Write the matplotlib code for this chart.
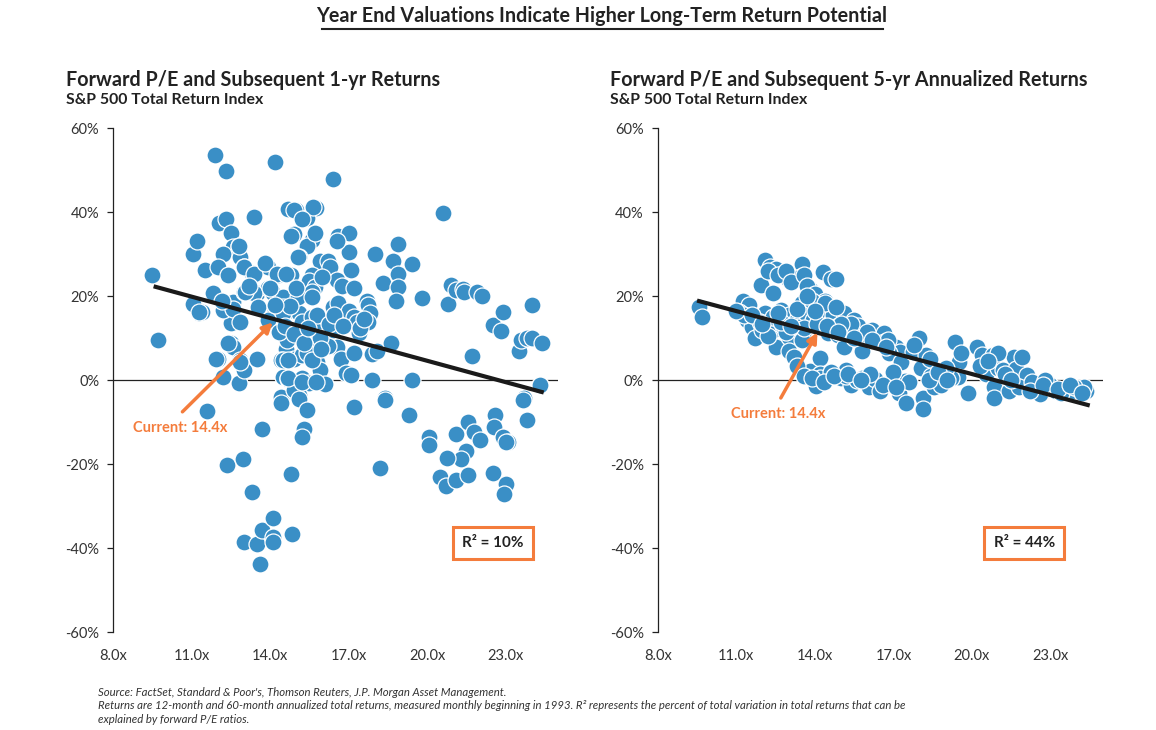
import matplotlib.pyplot as plt

plt.rcParams['font.family'] = ['Lato', 'DejaVu Sans']

BLUE = '#3a8fc6'
ORANGE = '#f47c3c'

# left panel: forward P/E vs subsequent 1-yr return (%)
pe_1yr = [11.9, 12.3, 14.2, 16.4, 20.6, 9.5, 9.7, 11.05, 11.2, 11.5, 11.1, 11.3, 11.4, 11.8, 12.0, 12.2, 12.8,
          12.05, 12.3, 12.5, 12.6, 12.8, 12.2, 12.0, 12.4, 12.85, 13.0, 13.4, 13.3, 13.5, 12.6, 12.85, 12.5, 12.2,
          13.0, 12.5, 12.6, 12.85, 13.0, 13.5, 13.8, 13.9, 14.3, 13.9, 14.1, 14.5, 14.8, 15.1, 14.5, 14.2, 13.9,
          14.8, 15.1, 15.2, 15.6, 15.7, 14.6, 14.6, 14.4, 14.9, 15.2, 15.6, 15.8, 15.9, 14.5, 14.7, 15.2, 15.5,
          16.1, 15.0, 15.1, 14.4, 14.7, 15.0, 15.75, 15.4, 14.9, 15.7, 15.6, 15.4, 15.1, 15.9, 16.2, 16.3, 15.6,
          15.5, 15.7, 15.6, 16.6, 17.0, 17.0, 17.1, 16.55, 16.75, 17.2, 16.4, 16.6, 17.0, 17.2, 17.3, 17.7, 17.75,
          17.8, 17.75, 17.4, 16.4, 16.55, 16.7, 16.9, 17.1, 17.2, 16.2, 15.9, 17.9, 18.1, 18.6, 17.9, 18.4, 18.0,
          18.3, 18.7, 18.9, 18.9, 18.9, 18.8, 19.4, 19.8, 19.4, 20.8, 20.9, 21.1, 21.35, 21.4, 21.9, 22.1, 21.7,
          22.5, 22.8, 22.9, 23.5, 23.6, 23.8, 24.0, 24.0, 24.4, 24.3, 23.7,
          11.6, 13.7, 12.35, 12.95, 13.3, 13.0, 13.5, 13.7, 14.1, 14.1, 14.1, 13.6, 14.85, 14.8, 14.4, 14.9, 15.1,
          15.4, 15.3, 15.2, 17.2, 18.4, 18.2, 19.3, 20.05, 20.05, 21.1, 21.55, 21.8, 22.0, 21.5, 21.3, 20.75, 20.5,
          20.7, 21.1, 21.55, 22.6, 22.55, 22.9, 23.1, 23.0, 22.5, 23.0, 22.95, 23.65, 23.8, 24.3,
          12.8, 13.0, 13.4, 13.8, 14.25, 14.6, 15.05, 13.4, 13.05, 12.6, 12.85, 11.8, 12.15, 11.05, 11.3, 12.4,
          11.95, 13.5, 12.85, 14.5, 14.75, 15.6, 15.8, 14.65, 14.5, 14.7, 15.4, 15.6, 14.7, 15.2, 15.75, 16.0,
          16.55, 15.7, 15.65, 14.9, 15.2, 14.8, 15.05,
          14.35, 14.55, 14.9, 15.3, 15.45, 15.95, 16.25, 16.45, 16.8, 17.45, 17.6, 13.55, 13.2, 14.0, 14.2, 15.0]
ret_1yr = [53.6, 49.8, 52.1, 47.9, 39.8, 25.2, 9.5, 30.2, 33.1, 26.4, 18.1, 16.0, 16.2, 20.7, 5.2, 0.7, -0.7,
           37.4, 38.5, 35.0, 31.7, 32.1, 30.2, 27.1, 25.0, 29.3, 27.0, 38.8, 25.5, 20.7, 18.6, 13.8, 13.6, 16.7,
           21.0, 9.0, 7.9, 4.8, 2.4, 5.0, 27.9, 27.0, 25.2, 21.9, 20.8, 19.8, 25.0, 19.8, 17.4, 16.5, 14.3,
           16.7, 16.0, 14.0, 15.0, 12.0, 10.0, 7.4, 4.8, 5.0, 6.0, 7.1, 4.3, 2.5, 0.7, 0.3, 0.5, -0.7,
           -0.8, -2.0, -3.5, -4.0, 40.7, 40.5, 41.0, 38.6, 34.8, 35.0, 33.5, 32.0, 29.3, 28.5, 28.5, 27.0, 25.0,
           23.6, 22.2, 21.0, 34.5, 35.0, 30.5, 26.2, 23.8, 22.5, 21.9, 17.4, 18.5, 16.5, 15.0, 14.0, 19.0, 18.0,
           16.0, 14.0, 11.2, 11.9, 7.9, 5.0, 1.7, 1.3, 6.5, 8.2, 10.0, 6.3, 7.0, 8.8, 0.0, -4.3, 30.2,
           23.3, 28.5, 32.4, 25.4, 22.2, 19.0, 27.6, 19.5, 0.0, 18.3, 22.6, 21.5, 21.7, 21.0, 21.0, 20.0, 5.9,
           13.1, 11.8, 16.2, 7.1, 9.5, 10.0, 10.0, 17.9, 8.8, -1.2, -4.3,
           -7.3, -11.5, -20.2, -18.7, -26.6, -38.5, -38.9, -35.7, -32.9, -37.3, -38.5, -43.7, -36.5, -22.4, -5.4,
           -2.4, -4.4, -7.0, -11.5, -13.5, -6.3, -4.6, -20.9, -8.3, -13.5, -15.5, -12.9, -9.9, -12.3, -14.3,
           -16.9, -18.7, -18.4, -23.0, -25.2, -23.8, -22.5, -8.3, -11.0, -13.5, -14.7, -14.7, -22.0, -24.8, -27.0,
           -4.6, -9.4, -1.2,
           32.0, 27.0, 25.4, 27.9, 25.4, 25.4, 19.8, 20.7, 21.0, 17.1, 13.8, 20.7, 19.0, 18.3, 16.2, 8.8,
           5.2, 5.2, 4.3, 16.0, 17.8, 19.8, 15.5, 9.5, 4.8, 4.8, 6.4, 4.8, 0.5, -0.5, -0.5, 24.5,
           33.3, 35.0, 41.2, 40.5, 38.5, 34.5, 29.3,
           11.5, 13.0, 11.0, 9.0, 12.5, 7.5, 13.5, 15.5, 13.0, 12.5, 14.5, 17.5, 22.5, 22.0, 18.0, 22.0]

# right panel: forward P/E vs subsequent 5-yr annualized return (%)
pe_5yr = [9.56, 9.7, 11.26, 11.5, 11.1, 11.4, 11.8, 11.6, 11.7, 12.1, 12.3, 12.0, 12.4, 12.5, 12.7, 12.9,
          13.0, 12.8, 13.0, 13.0, 13.2, 13.3, 13.4, 13.55, 13.5, 12.08, 12.27, 12.53, 12.78, 12.97, 13.23, 13.5,
          13.42, 13.8, 11.96, 12.4, 14.3, 14.6, 14.8, 13.5, 13.8, 14.06, 13.67, 13.93, 14.3, 14.6, 14.7, 15.1,
          15.5, 14.5, 14.9, 15.1, 15.3, 15.7, 15.65, 15.8, 15.8, 16.2, 16.35, 16.66, 16.66, 17.1, 17.25, 16.85,
          17.3, 17.75, 17.98, 18.25, 18.05, 18.45, 18.6, 18.9, 19.34, 19.5, 19.46, 19.85, 20.2, 20.4, 20.8, 20.7,
          20.55, 21.0, 21.2, 21.6, 21.7, 22.1, 20.86, 20.86, 21.4, 21.8, 22.45, 22.6, 22.96, 23.2, 23.6, 23.85,
          24.1, 24.36, 24.3, 13.8, 14.2, 14.2, 14.05, 14.6, 15.0, 15.2, 15.4, 15.8, 16.05, 16.3, 16.5, 17.2,
          17.45, 17.5, 18.15, 18.15, 18.55,
          12.2, 12.6, 12.9, 13.1, 13.6, 13.7, 14.0, 14.4, 11.3, 11.9, 12.6, 13.3, 12.2, 12.9, 13.6, 14.1,
          14.9, 15.4, 16.0, 13.3, 13.6, 14.2, 14.6, 15.2, 15.6, 16.1, 17.0, 17.6, 18.8, 19.2, 20.3, 21.3,
          22.3, 23.0, 23.4, 23.9, 16.8, 17.8, 18.4, 19.0, 19.6, 21.0, 21.9, 22.8,
          12.4, 12.7, 13.1, 13.9, 14.4, 14.8, 15.0, 13.7, 14.0, 14.45, 14.9, 15.5, 16.2, 16.7, 13.9, 14.35,
          14.75, 15.25, 15.75, 16.6, 17.1, 18.35, 18.7, 19.05, 20.6, 21.25, 21.5, 22.2, 22.7, 23.3, 23.75, 24.2,
          11.0, 11.6, 12.0, 12.6]
ret_5yr = [17.5, 15.0, 19.0, 17.9, 16.3, 14.4, 14.4, 12.8, 10.0, 16.0, 14.0, 12.0, 12.0, 8.0, 16.7, 15.2,
           15.6, 13.0, 10.3, 7.1, 5.6, 14.4, 12.8, 11.2, 9.6, 28.6, 27.0, 26.6, 25.4, 24.2, 24.2, 27.8,
           24.6, 21.8, 22.8, 20.8, 25.8, 24.2, 24.2, 18.4, 18.0, 17.6, 16.0, 14.4, 15.6, 14.0, 15.6, 16.0,
           14.4, 11.2, 10.7, 8.0, 12.8, 10.7, 13.0, 9.1, 7.1, 12.0, 9.6, 11.2, 9.1, 8.0, 6.8, 6.4,
           4.3, 6.8, 10.0, 6.0, 3.0, 1.1, -1.3, -0.1, 9.2, 4.3, 0.8, -3.1, 7.9, 6.0, 6.0, 3.6,
           1.6, 2.9, 2.5, 5.6, 2.8, 1.3, -1.7, -4.1, -2.5, -1.7, -1.7, -3.2, -1.7, -2.5, -2.1, -2.5,
           -2.1, -2.5, -1.7, 2.2, 5.4, 1.4, -1.4, 1.7, 0.5, 2.4, -1.0, 0.5, -1.7, 0.2, -2.5, -2.9,
           -0.1, -5.3, -4.1, -6.9, -1.7,
           26.0, 25.0, 26.0, 23.5, 25.0, 22.5, 20.5, 19.0, 15.5, 14.0, 14.5, 17.0, 10.5, 11.5, 12.5, 13.5,
           13.0, 13.5, 11.5, 3.5, 1.0, 0.5, 2.0, 1.0, 0.0, 1.5, 2.0, -0.5, -1.0, 0.5, 3.5, 1.0,
           -0.5, -1.0, -3.0, -1.5, 9.5, 8.5, 5.0, 3.0, 6.5, 6.5, 5.5, 0.0,
           15.0, 14.0, 13.0, 19.0, 18.5, 17.5, 13.5, 20.0, 16.5, 13.0, 11.5, 10.0, 9.5, 8.0, 0.5, -0.5,
           1.0, 1.5, 0.0, -1.0, -1.5, 0.0, 2.0, 0.0, 4.5, 1.5, 0.0, -2.5, -1.0, -2.0, -1.0, -3.0,
           16.5, 15.5, 13.5, 16.0]

# regression lines (end points) and current P/E
trend1_x = [9.55, 24.45]
trend1_y = [22.4, -2.9]
trend5_x = [9.5, 24.5]
trend5_y = [19.0, -6.0]
current_pe = 14.4

yticks = [-60, -40, -20, 0, 20, 40, 60]
xticks = [8, 11, 14, 17, 20, 23]

fig = plt.figure(figsize=(11.56, 7.30), dpi=100)


def panel(rect, pe, ret, tx, ty, title, r2, note_xy, arrow_head, box_x):
	ax = fig.add_axes(rect)
	ax.axhline(0, color='#222222', lw=0.9, zorder=1)
	ax.scatter(pe, ret, s=150, color=BLUE, edgecolors='white', linewidths=0.9, zorder=2)
	ax.plot(tx, ty, color='#1a1a1a', lw=3, solid_capstyle='butt', zorder=3)
	ax.set_xlim(8, 25)
	ax.set_ylim(-60, 60)
	ax.set_yticks(yticks)
	ax.set_yticklabels(['%d%%' % v for v in yticks], fontsize=10.5, color='#333333')
	ax.set_xticks(xticks)
	ax.set_xticklabels(['%.1fx' % v for v in xticks], fontsize=10.5, color='#333333')
	ax.tick_params(axis='y', length=4, width=0.9, color='#222222', pad=6)
	ax.tick_params(axis='x', length=0, pad=12)
	for s in ['top', 'right', 'bottom']:
		ax.spines[s].set_visible(False)
	ax.spines['left'].set_color('#222222')
	ax.spines['left'].set_linewidth(0.9)

	ax.annotate('', xy=arrow_head, xytext=(note_xy[0] + 0.1, note_xy[1] + 3.8),
				arrowprops=dict(arrowstyle='-|>,head_length=0.6,head_width=0.3', color=ORANGE, lw=2.5,
								shrinkA=0, shrinkB=0), zorder=4)
	ax.text(note_xy[0], note_xy[1], 'Current: %.1fx' % current_pe, color=ORANGE, fontsize=10.5,
			fontweight='bold', ha='center', va='center', zorder=4)
	ax.text(box_x, -38.8, 'R² = %d%%' % r2, fontsize=11, fontweight='bold', color='#222222',
			ha='center', va='center',
			bbox=dict(boxstyle='square,pad=0.6', fc='white', ec=ORANGE, lw=2.2), zorder=5)

	fig.text(rect[0] - 0.041, 0.891, title, fontsize=14.2, fontweight='bold', color='#222222', va='center')
	fig.text(rect[0] - 0.041, 0.863, 'S&P 500 Total Return Index', fontsize=11.4, fontweight='bold',
			 color='#222222', va='center')
	return ax


panel([0.0978, 0.134, 0.385, 0.690], pe_1yr, ret_1yr, trend1_x, trend1_y,
	  'Forward P/E and Subsequent 1-yr Returns', 10, (10.55, -11.3), (14.1, 13.8), 22.5)
panel([0.569, 0.134, 0.385, 0.690], pe_5yr, ret_5yr, trend5_x, trend5_y,
	  'Forward P/E and Subsequent 5-yr Annualized Returns', 44, (12.6, -8.0), (14.1, 11.4), 22.0)

fig.text(0.5205, 0.978, 'Year End Valuations Indicate Higher Long-Term Return Potential', fontsize=14.2,
		 fontweight='bold', color='#222222', ha='center', va='center')
fig.add_artist(plt.Line2D([0.2785, 0.764], [0.96, 0.96], color='#222222', lw=1.5))

notes = ["Source: FactSet, Standard & Poor's, Thomson Reuters, J.P. Morgan Asset Management.",
		 "Returns are 12-month and 60-month annualized total returns, measured monthly beginning in 1993. "
		 "R² represents the percent of total variation in total returns that can be",
		 "explained by forward P/E ratios."]
for i, line in enumerate(notes):
	fig.text(0.085, 0.052 - i * 0.019, line, fontsize=8.2, style='italic', color='#333333', va='center')

fig.savefig('out.png', dpi=100, facecolor='white')
